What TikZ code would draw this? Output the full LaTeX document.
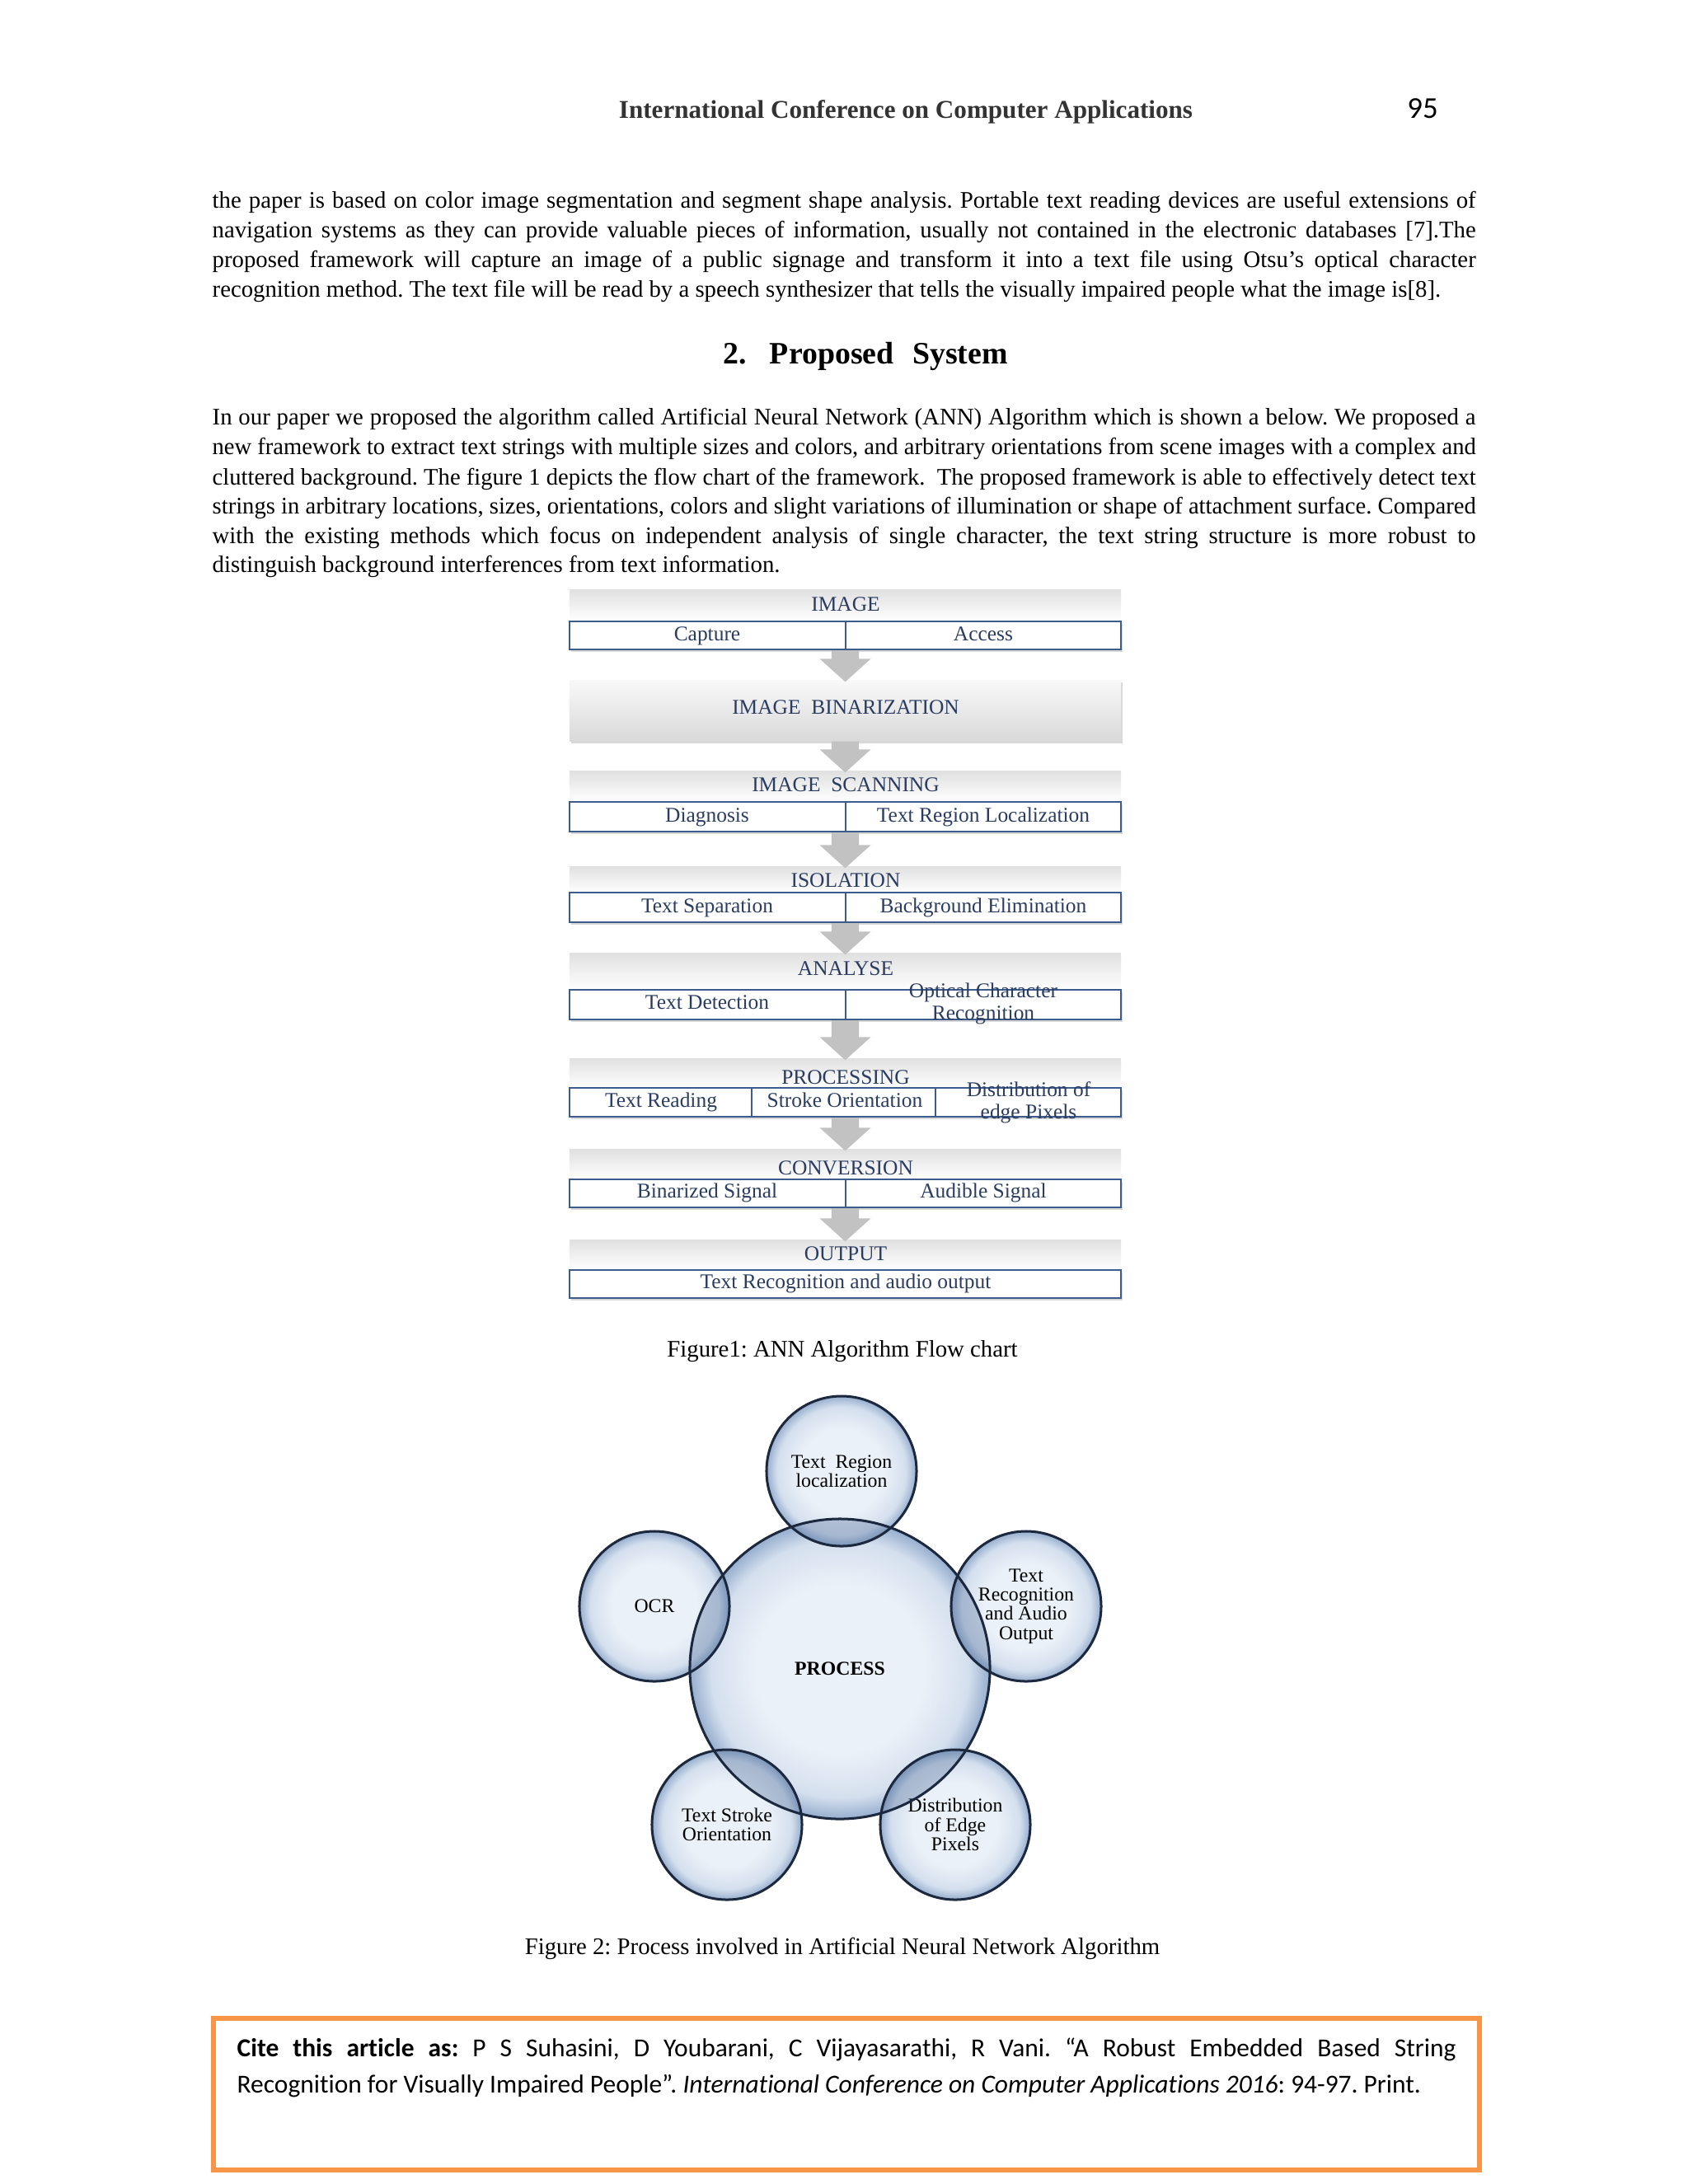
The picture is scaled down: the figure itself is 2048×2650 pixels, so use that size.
\documentclass[tikz,border=0pt]{standalone}
\usepackage{graphicx}
\usepackage{fontspec}
\setmainfont{Liberation Serif}
\newfontfamily\calibri[Ligatures=CommonOff]{Carlito}
\usetikzlibrary{calc,shadows}
\frenchspacing
\def\pxu{0.29883pt}
\newlength\linew \setlength\linew{458.1pt}
\newcommand\jlinew[2]{\setbox0\hbox{#2}\ifdim\wd0>#1\relax\resizebox{#1}{\height}{#2}\else\makebox[#1][s]{#2}\fi}
\newcommand\jline[1]{\jlinew{\linew}{#1}}
\newcommand\flow{\fontsize{7.6}{8}\selectfont}
\newcommand\circfont{\fontsize{7.1}{7}\selectfont}
\newcommand\bodyfont{\fontsize{8.6}{10.8}\selectfont}
\definecolor{rowblue}{RGB}{60,92,140}
\definecolor{lblblue}{RGB}{42,60,98}
\definecolor{arrowgray}{RGB}{194,194,194}
\definecolor{bandtop}{RGB}{224,224,224}
\definecolor{citeorange}{RGB}{247,150,70}
\definecolor{circedge}{RGB}{28,40,62}
\definecolor{bubc}{RGB}{235,241,248}
\definecolor{bubm}{RGB}{212,223,238}
\definecolor{bube}{RGB}{150,174,206}
\pgfdeclareradialshading{bubble}{\pgfpoint{0bp}{0bp}}{color(0bp)=(bubc); color(14bp)=(bubc); color(21.5bp)=(bubm); color(25bp)=(bube); color(50bp)=(bube)}
\newcommand\mkbox[6]{\node[#1, minimum width={(#5-#3)*\pxu}, minimum height={(#6-#4)*\pxu}] (#2) at ({(#3+#5)/2},{(#4+#6)/2}) {};}
\newcommand\blkarrow[2]{%
\fill[blk] let \p1=(#1.south), \p2=(#2.north) in
 (\x1-5pt,\y1) -- (\x1+5pt,\y1) -- (\x1+5pt,\y2+7.5pt) -- (\x1+9.3pt,\y2+7.5pt) -- (\x1,\y2-0.9pt) -- (\x1-9.3pt,\y2+7.5pt) -- (\x1-5pt,\y2+7.5pt) -- cycle;}
\begin{document}
\begin{tikzpicture}[x=0.29883pt, y=-0.29883pt,
  band/.style={draw=none, top color=bandtop, bottom color=white, inner sep=0pt},
  binbox/.style={draw=none, top color=gray!5, bottom color=gray!30, inner sep=0pt, drop shadow={opacity=0.3, shadow xshift=0.5pt, shadow yshift=-0.8pt}},
  rowbox/.style={draw=rowblue, line width=0.6pt, fill=white, inner sep=0pt, drop shadow={opacity=0.3, shadow xshift=0.5pt, shadow yshift=-0.8pt}},
  rowline/.style={draw=rowblue, line width=0.6pt},
  lbl/.style={text=lblblue, font=\flow, inner sep=0pt, anchor=base},
  blk/.style={fill=arrowgray},
  bub/.style={circle, shading=bubble, inner sep=0pt, align=center, font=\circfont},
  circline/.style={draw=circedge, line width=0.9pt},
  bodytxt/.style={anchor=base west, inner sep=0pt, font=\bodyfont},
  citebox/.style={draw=citeorange, line width=1.6pt, inner sep=0pt},
  citetxt/.style={anchor=base west, inner sep=0pt, font=\calibri\fontsize{9.4}{12}\selectfont}
]
\fill[white] (0,0) rectangle (2048,2650);
\useasboundingbox (0,0) rectangle (2048,2650);

% header
\node[anchor=base, inner sep=0pt, font=\fontsize{9.3}{11}\selectfont\bfseries, text=black!80] (hdr) at (1099,143) {International Conference on Computer Applications};
\node[anchor=base, inner sep=0pt, font=\calibri\fontsize{11}{13}\selectfont] (pgno) at (1726,143) {95};

% paragraph 1
\node[bodytxt] (p1a) at (257,252) {\jline{the paper is based on color image segmentation and segment shape analysis. Portable text reading devices are useful extensions of}};
\node[bodytxt] (p1b) at (257,288) {\jline{navigation systems as they can provide valuable pieces of information, usually not contained in the electronic databases [7].The}};
\node[bodytxt] (p1c) at (257,324) {\jline{proposed framework will capture an image of a public signage and transform it into a text file using Otsu’s optical character}};
\node[bodytxt] (p1d) at (257,360) {recognition method. The text file will be read by a speech synthesizer that tells the visually impaired people what the image is[8].};

% heading
\node[anchor=base, inner sep=0pt, font=\fontsize{11.3}{13}\selectfont\bfseries] (sec) at (1050,441) {2.\hspace{0.75em}Proposed\hspace{0.6em}System};

% paragraph 2
\node[bodytxt] (p2a) at (257,515) {\jline{In our paper we proposed the algorithm called Artificial Neural Network (ANN) Algorithm which is shown a below. We proposed a}};
\node[bodytxt] (p2b) at (257,551) {\jline{new framework to extract text strings with multiple sizes and colors, and arbitrary orientations from scene images with a complex and}};
\node[bodytxt] (p2c) at (257,588) {\jline{cluttered background. The figure 1 depicts the flow chart of the framework.\ \ The proposed framework is able to effectively detect text}};
\node[bodytxt] (p2d) at (257,623) {\jline{strings in arbitrary locations, sizes, orientations, colors and slight variations of illumination or shape of attachment surface. Compared}};
\node[bodytxt] (p2e) at (257,659) {\jline{with the existing methods which focus on independent analysis of single character, the text string structure is more robust to}};
\node[bodytxt] (p2f) at (257,694) {distinguish background interferences from text information.};

% flow chart boxes
\mkbox{band}{band1}{691}{715}{1360}{754}
\mkbox{rowbox}{row1}{691}{754}{1360}{788}
\mkbox{binbox}{bin}{691}{825}{1360}{899}
\mkbox{band}{band3}{691}{935}{1360}{973}
\mkbox{rowbox}{row3}{691}{973}{1360}{1009}
\mkbox{band}{band4}{691}{1051}{1360}{1083}
\mkbox{rowbox}{row4}{691}{1083}{1360}{1119}
\mkbox{band}{band5}{691}{1156}{1360}{1201}
\mkbox{rowbox}{row5}{691}{1201}{1360}{1237}
\mkbox{band}{band6}{691}{1284}{1360}{1320}
\mkbox{rowbox}{row6}{691}{1320}{1360}{1355}
\mkbox{band}{band7}{691}{1394}{1360}{1431}
\mkbox{rowbox}{row7}{691}{1431}{1360}{1465}
\mkbox{band}{band8}{691}{1504}{1360}{1541}
\mkbox{rowbox}{row8}{691}{1541}{1360}{1575}

% dividers
\foreach \r in {row1,row3,row4,row5,row7} {\draw[rowline] (\r.north) -- (\r.south);}
\draw[rowline] ($(row6.north west)+(222,0)$) -- ($(row6.south west)+(222,0)$);
\draw[rowline] ($(row6.north west)+(445,0)$) -- ($(row6.south west)+(445,0)$);

% block arrows
\blkarrow{row1}{bin}
\blkarrow{bin}{band3}
\blkarrow{row3}{band4}
\blkarrow{row4}{band5}
\blkarrow{row5}{band6}
\blkarrow{row6}{band7}
\blkarrow{row7}{band8}

% labels
\node[lbl] (t1) at (1026,741) {IMAGE};
\node[lbl] (t1a) at (858,777) {Capture};
\node[lbl] (t1b) at (1193,777) {Access};
\node[lbl] (t2) at (1026,866) {IMAGE\ \ BINARIZATION};
\node[lbl] (t3) at (1026,960) {IMAGE\ \ SCANNING};
\node[lbl] (t3a) at (858,997) {Diagnosis};
\node[lbl] (t3b) at (1193,997) {Text Region Localization};
\node[lbl] (t4) at (1026,1076) {ISOLATION};
\node[lbl] (t4a) at (858,1107) {Text Separation};
\node[lbl] (t4b) at (1193,1107) {Background Elimination};
\node[lbl] (t5) at (1026,1183) {ANALYSE};
\node[lbl] (t5a) at (858,1224) {Text Detection};
\node[lbl] (t5b) at (1193,1210) {Optical Character};
\node[lbl] (t5c) at (1193,1237) {Recognition};
\node[lbl] (t6) at (1026,1315) {PROCESSING};
\node[lbl] (t6a) at (802,1343) {Text Reading};
\node[lbl] (t6b) at (1025,1343) {Stroke Orientation};
\node[lbl] (t6c) at (1248,1330) {Distribution of};
\node[lbl] (t6d) at (1248,1357) {edge Pixels};
\node[lbl] (t7) at (1026,1425) {CONVERSION};
\node[lbl] (t7a) at (858,1453) {Binarized Signal};
\node[lbl] (t7b) at (1193,1453) {Audible Signal};
\node[lbl] (t8) at (1026,1529) {OUTPUT};
\node[lbl] (t8a) at (1026,1563) {Text Recognition and audio output};

\node[anchor=base, inner sep=0pt, font=\bodyfont] (cap1) at (1022,1646) {Figure1: ANN Algorithm Flow chart};

% circles
\node[bub, minimum size=364*\pxu, font=\circfont\bfseries] (c0) at (1019,2025) {PROCESS};
\node[bub, minimum size=182*\pxu] (c1) at (1021,1785) {Text\ \ Region\\localization};
\node[bub, minimum size=182*\pxu] (c2) at (794,1949) {OCR};
\node[bub, minimum size=182*\pxu] (c3) at (1245,1949) {Text\\Recognition\\and Audio\\Output};
\node[bub, minimum size=182*\pxu] (c4) at (882,2214) {Text Stroke\\Orientation};
\node[bub, minimum size=182*\pxu] (c5) at (1159,2214) {Distribution\\of Edge\\Pixels};
\begin{scope}
  \clip (c0.center) circle[radius=54.4pt];
  \foreach \c in {c1,c2,c3,c4,c5} {\fill[rowblue, fill opacity=0.3] (\c.center) circle[radius=27.2pt];}
\end{scope}
\draw[circline] (c0.center) circle[radius=54.4pt];
\foreach \c in {c1,c2,c3,c4,c5} {\draw[circline] (\c.center) circle[radius=27.2pt];}

\node[anchor=base, inner sep=0pt, font=\bodyfont] (cap2) at (1022,2371) {Figure 2: Process involved in Artificial Neural Network Algorithm};

% cite box
\mkbox{citebox}{cite}{259}{2449}{1795}{2633}
\node[citetxt] (cl1) at (287,2495) {\jlinew{442pt}{\textbf{Cite this article as:} P S Suhasini, D Youbarani, C Vijayasarathi, R Vani. “A Robust Embedded Based String}};
\node[citetxt] (cl2) at (287,2539) {Recognition for Visually Impaired People”. \textit{International Conference on Computer Applications 2016}: 94-97. Print.};
\end{tikzpicture}
\end{document}
